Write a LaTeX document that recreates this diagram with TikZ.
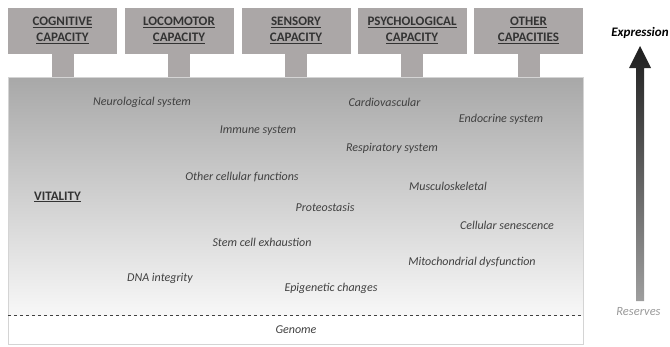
\documentclass[tikz,border=0pt]{standalone}
\usepackage{fontspec}
\setmainfont{Carlito}

\definecolor{capgray}{HTML}{ABA7A7}
\definecolor{vitgray}{HTML}{A8A8A8}
\definecolor{txtgray}{HTML}{404040}
\definecolor{rimgray}{HTML}{D4D4D4}

\tikzset{
    capbox/.style = {fill = capgray, minimum width = 109pt, minimum height = 46pt,
        inner sep = 0pt, align = center, text = black!80,
        font = \bfseries\fontsize{13}{16.5}\selectfont},
    factor/.style = {text = txtgray, inner sep = 1pt, font = \itshape\fontsize{12}{14}\selectfont}
}

\begin{document}
\begin{tikzpicture}[x = 1pt, y = -1pt]
                \useasboundingbox (0, 0) rectangle (670, 346);

                % capacities on top
                \foreach \x/\n/\a/\b in {62.5/1/COGNITIVE/CAPACITY, 179/2/LOCOMOTOR/CAPACITY,
                    296/3/SENSORY/CAPACITY, 412/4/PSYCHOLOGICAL/CAPACITY, 528.5/5/OTHER/CAPACITIES}
                {
                \node [capbox] (cap\n) at (\x, 30.5) {\underline{\a}\\\underline{\b}};
                \fill [color = capgray] ([xshift = -11pt]cap\n.south) rectangle ([xshift = 11pt]cap\n.south |- 0, 78);
                }

                % vitality block
                \shade [top color = vitgray, bottom color = white!97!black] (8, 77) rectangle (583, 315);
                \draw [color = rimgray] (8, 77) rectangle (583, 344);
                \draw [dashed, color = black!75] (8, 315) -- (583, 315);

                \node [text = black!80, font = \bfseries\fontsize{13}{15}\selectfont] (vitality) at (57.5, 197) {\underline{VITALITY}};

                \node [factor] (neuro) at (142, 102) {Neurological system};
                \node [factor] (immune) at (258, 131) {Immune system};
                \node [factor] (othercell) at (242, 177) {Other cellular functions};
                \node [factor] (proteo) at (325, 207) {Proteostasis};
                \node [factor] (stemcell) at (262, 242) {Stem cell exhaustion};
                \node [factor] (dna) at (160, 278) {DNA integrity};
                \node [factor] (epigen) at (331, 288) {Epigenetic changes};
                \node [factor] (cardio) at (384.5, 102) {Cardiovascular};
                \node [factor] (endo) at (501, 119) {Endocrine system};
                \node [factor] (resp) at (392, 148) {Respiratory system};
                \node [factor] (musc) at (448, 186) {Musculoskeletal};
                \node [factor] (senesc) at (507, 225) {Cellular senescence};
                \node [factor] (mito) at (472, 262) {Mitochondrial dysfunction};

                \node [factor] (genome) at (296, 330) {Genome};

                % expression / reserves arrow
                \node [text = black, font = \bfseries\itshape\fontsize{13}{15}\selectfont] (expr) at (640, 33) {Expression};
                \node [text = black!40, font = \itshape\fontsize{12.5}{15}\selectfont] (reserves) at (638.5, 312) {Reserves};

                \coordinate (arrbot) at (640, 301);
                \coordinate (arrtop) at (640, 46);
                \shade [top color = black!88, bottom color = black!38]
                    ([xshift = -4pt]arrbot) -- ([xshift = -4pt, yshift = -22pt]arrtop) -- ([xshift = -11pt, yshift = -22pt]arrtop)
                    -- (arrtop) -- ([xshift = 11pt, yshift = -22pt]arrtop) -- ([xshift = 4pt, yshift = -22pt]arrtop)
                    -- ([xshift = 4pt]arrbot) -- cycle;
            \end{tikzpicture}
\end{document}
